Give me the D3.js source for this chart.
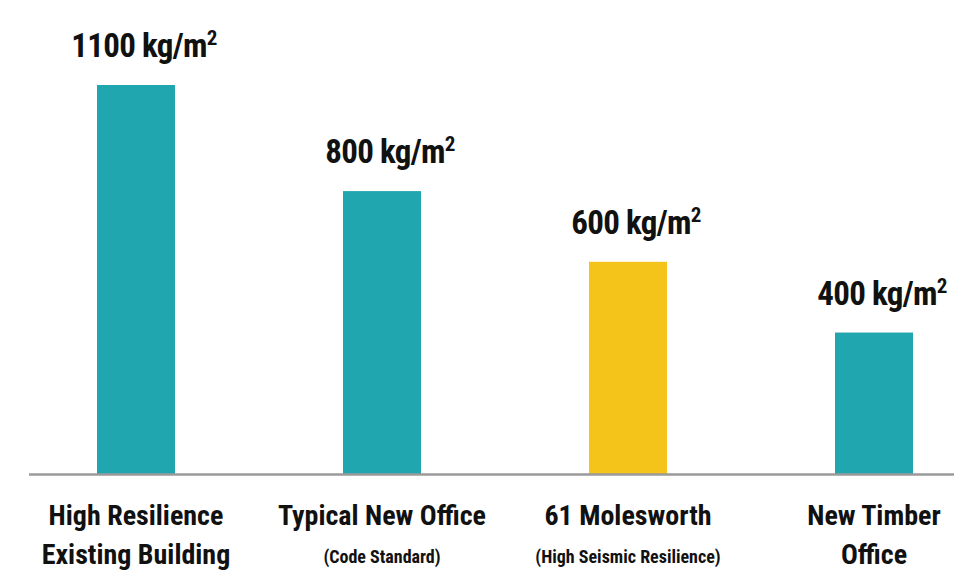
<!DOCTYPE html>
<html>
<head>
<meta charset="utf-8">
<script src="https://cdn.jsdelivr.net/npm/d3@7"></script>
<style>
  html, body { margin: 0; padding: 0; background: #ffffff; }
  svg { display: block; }
  text { font-family: "Liberation Sans Narrow", "Arial Narrow", "Roboto Condensed", "DejaVu Sans Condensed", sans-serif; font-weight: bold; fill: #111; }
</style>
</head>
<body>
<svg id="chart" width="954" height="570"></svg>
<script>
const categories = ["High Resilience", "Typical New Office", "61 Molesworth", "New Timber"];
const categoryLine2 = ["Existing Building", "(Code Standard)", "(High Seismic Resilience)", "Office"];
const values = [1100, 800, 600, 400];
const unitLabel = "kg/m";
const highlight = [false, false, true, false];

const W = 954, H = 570;
const baseY = 474;
const svg = d3.select("#chart");

const x = d3.scaleBand().domain(categories).range([97, 913]).paddingInner(0.683).paddingOuter(0);
const y = d3.scaleLinear().domain([0, 1100]).range([baseY, 85]);

// bars
svg.selectAll("rect.bar").data(values).join("rect")
  .attr("class", "bar")
  .attr("x", (d, i) => x(categories[i]))
  .attr("width", x.bandwidth())
  .attr("y", d => y(d))
  .attr("height", d => baseY - y(d))
  .attr("fill", (d, i) => highlight[i] ? "#f4c41a" : "#20a6af");

// baseline axis
const axis = d3.axisBottom(x).tickSize(0).tickFormat("");
const ag = svg.append("g").attr("transform", `translate(0,${baseY})`).call(axis);
ag.select(".domain").remove();
svg.append("line").attr("x1", 29).attr("x2", W).attr("y1", baseY + 0.5).attr("y2", baseY + 0.5)
  .attr("stroke", "#9a9a9a").attr("stroke-width", 2.5);

// value labels
const vl = svg.selectAll("text.val").data(values).join("text")
  .attr("class", "val")
  .attr("x", (d, i) => x(categories[i]) + x.bandwidth() / 2 + 8)
  .attr("y", d => y(d) - 28)
  .attr("text-anchor", "middle")
  .style("font-size", "33px")
  .style("letter-spacing", "-0.7px");
vl.append("tspan").text(d => d + " " + unitLabel);
vl.append("tspan").text("2").attr("dy", -12).style("font-size", "21px");

// category labels
categories.forEach((c, i) => {
  const cx = x(c) + x.bandwidth() / 2;
  const sub = categoryLine2[i].startsWith("(");
  svg.append("text").attr("x", cx).attr("y", 525).attr("text-anchor", "middle")
    .style("font-size", "28px").text(c);
  svg.append("text").attr("x", cx).attr("y", sub ? 563 : 564).attr("text-anchor", "middle")
    .style("font-size", sub ? "18px" : "28px").text(categoryLine2[i]);
});
</script>
</body>
</html>
